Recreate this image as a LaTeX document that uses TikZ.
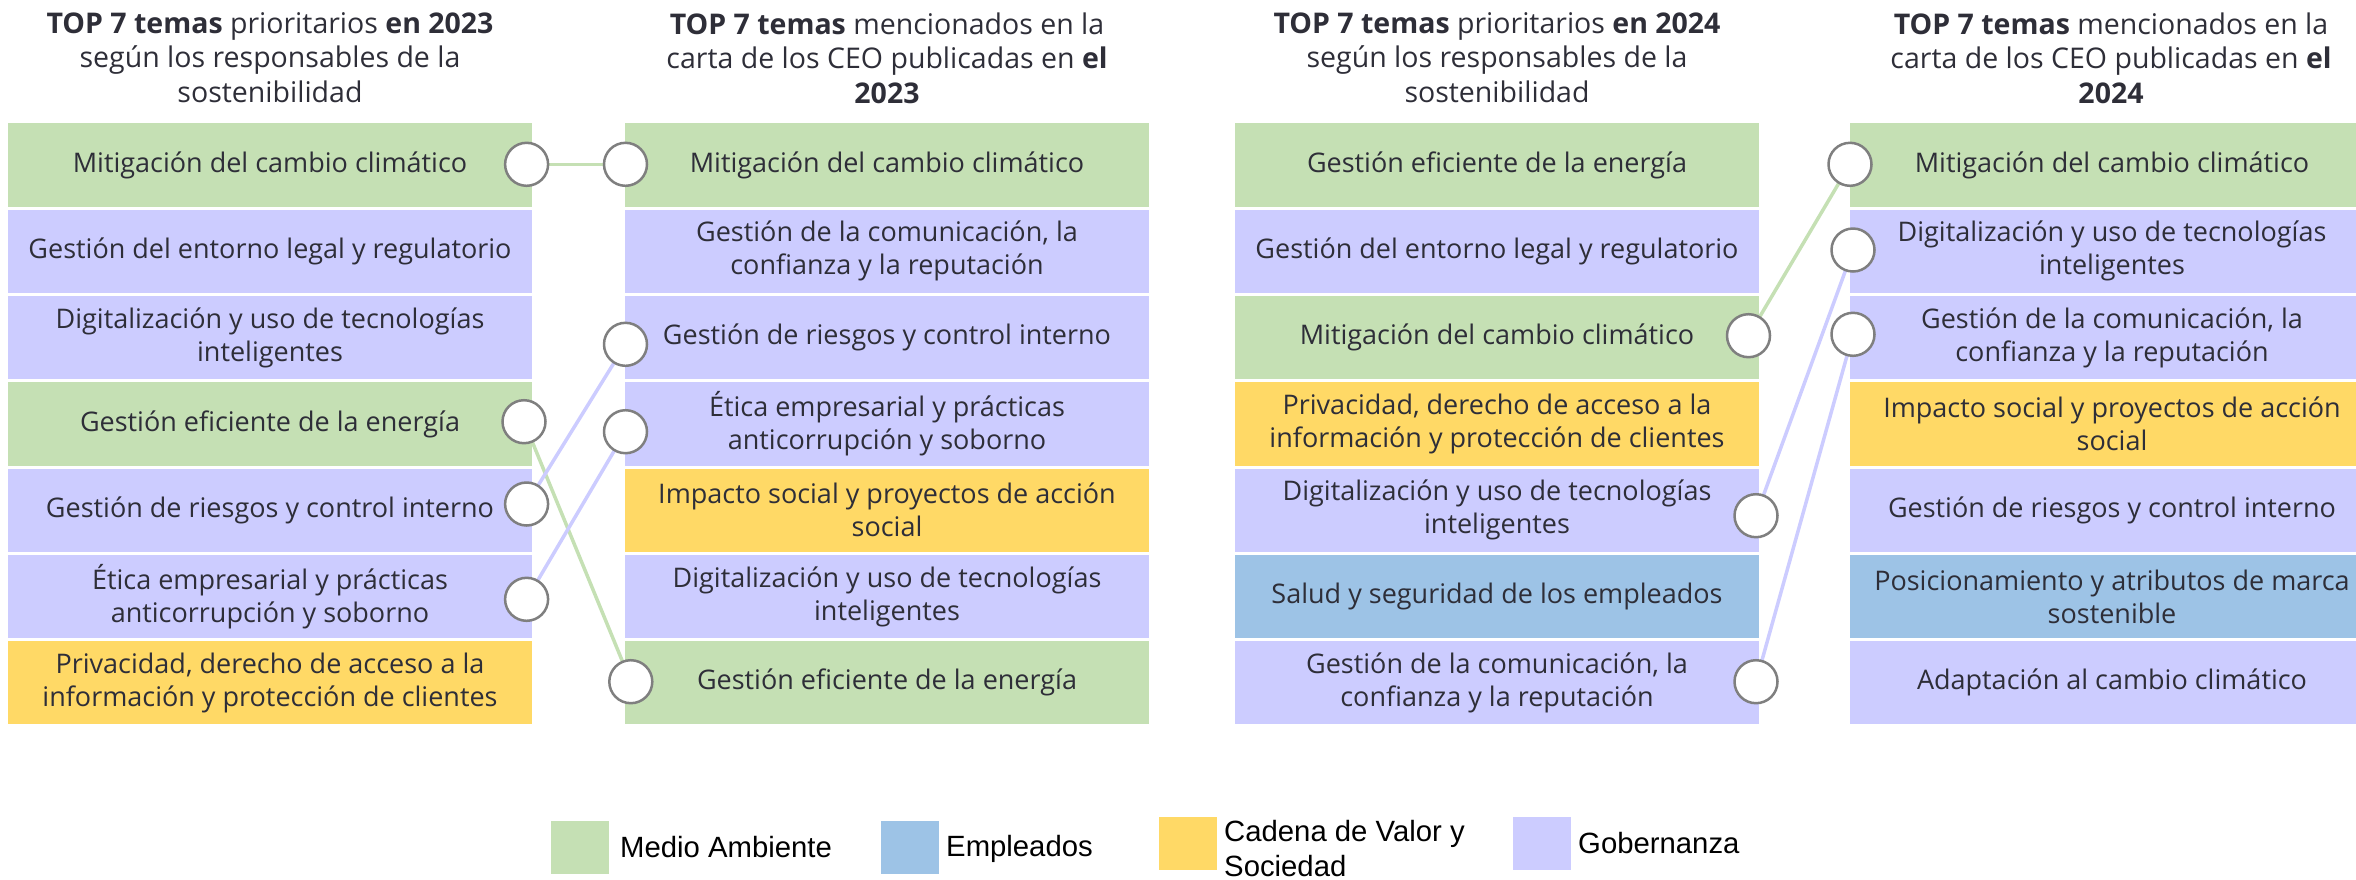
\documentclass[tikz,border=0pt]{standalone}
\usepackage{fontspec}
\setmainfont{Open Sans}
\newfontfamily\legendfont{Liberation Sans}
\definecolor{cMA}{HTML}{C5E0B4}
\definecolor{cEM}{HTML}{9DC3E6}
\definecolor{cCV}{HTML}{FFD966}
\definecolor{cGO}{HTML}{CCCCFF}
\definecolor{txt}{HTML}{2E2E38}
\definecolor{ring}{HTML}{7F7F7F}
\tikzset{
  topic/.style={rectangle, minimum width=524pt, minimum height=83.3pt, inner sep=0pt,
    align=center, text=txt, font=\fontsize{27}{33}\selectfont},
  ma/.style={topic, fill=cMA}, em/.style={topic, fill=cEM},
  cv/.style={topic, fill=cCV}, go/.style={topic, fill=cGO},
  dot/.style={circle, minimum size=43pt, inner sep=0pt, draw=ring, line width=2.5pt, fill=white},
  head/.style={align=center, text=txt, font=\fontsize{28.5}{34.5}\selectfont, anchor=north},
  linkMA/.style={draw=cMA, line width=3.5pt},
  linkGO/.style={draw=cGO, line width=3.5pt},
  swatch/.style={rectangle, inner sep=0pt, minimum width=58pt, minimum height=53pt},
  legtext/.style={font=\legendfont\fontsize{29.3}{35}\selectfont, text=black, inner sep=0pt, align=left}
}
\begin{document}
\begin{tikzpicture}[x=1pt,y=-1pt]
\useasboundingbox (0,0) rectangle (2356,879);
\clip (0,0) rectangle (2356,879);
% headers
\node[head] (h1) at (270,9) {\textbf{TOP 7 temas} prioritarios \textbf{en 2023}\\según los responsables de la\\sostenibilidad};
\node[head] (h2) at (887,9) {\textbf{TOP 7 temas} mencionados en la\\carta de los CEO publicadas en \textbf{el}\\\textbf{2023}};
\node[head] (h3) at (1497,9) {\textbf{TOP 7 temas} prioritarios \textbf{en 2024}\\según los responsables de la\\sostenibilidad};
\node[head] (h4) at (2111,9) {\textbf{TOP 7 temas} mencionados en la\\carta de los CEO publicadas en \textbf{el}\\\textbf{2024}};
% column 1
\node[ma] (a1) at (270,165) {Mitigación del cambio climático};
\node[go] (a2) at (270,251.3) {Gestión del entorno legal y regulatorio};
\node[go] (a3) at (270,337.6) {Digitalización y uso de tecnologías\\inteligentes};
\node[ma] (a4) at (270,423.9) {Gestión eficiente de la energía};
\node[go] (a5) at (270,510.2) {Gestión de riesgos y control interno};
\node[go] (a6) at (270,596.5) {Ética empresarial y prácticas\\anticorrupción y soborno};
\node[cv] (a7) at (270,682.8) {Privacidad, derecho de acceso a la\\información y protección de clientes};
% column 2
\node[ma] (b1) at (887,165) {Mitigación del cambio climático};
\node[go] (b2) at (887,251.3) {Gestión de la comunicación, la\\confianza y la reputación};
\node[go] (b3) at (887,337.6) {Gestión de riesgos y control interno};
\node[go] (b4) at (887,423.9) {Ética empresarial y prácticas\\anticorrupción y soborno};
\node[cv] (b5) at (887,510.2) {Impacto social y proyectos de acción\\social};
\node[go] (b6) at (887,596.5) {Digitalización y uso de tecnologías\\inteligentes};
\node[ma] (b7) at (887,682.8) {Gestión eficiente de la energía};
% column 3
\node[ma] (c1) at (1497,165) {Gestión eficiente de la energía};
\node[go] (c2) at (1497,251.3) {Gestión del entorno legal y regulatorio};
\node[ma] (c3) at (1497,337.6) {Mitigación del cambio climático};
\node[cv] (c4) at (1497,423.9) {Privacidad, derecho de acceso a la\\información y protección de clientes};
\node[go] (c5) at (1497,510.2) {Digitalización y uso de tecnologías\\inteligentes};
\node[em] (c6) at (1497,596.5) {Salud y seguridad de los empleados};
\node[go] (c7) at (1497,682.8) {Gestión de la comunicación, la\\confianza y la reputación};
% column 4
\node[ma] (d1) at (2112,165) {Mitigación del cambio climático};
\node[go] (d2) at (2112,251.3) {Digitalización y uso de tecnologías\\inteligentes};
\node[go] (d3) at (2112,337.6) {Gestión de la comunicación, la\\confianza y la reputación};
\node[cv] (d4) at (2112,423.9) {Impacto social y proyectos de acción\\social};
\node[go] (d5) at (2112,510.2) {Gestión de riesgos y control interno};
\node[em] (d6) at (2112,596.5) {Posicionamiento y atributos de marca\\sostenible};
\node[go] (d7) at (2112,682.8) {Adaptación al cambio climático};
% connector end points
\coordinate (pa1) at (526.6,164.3);
\coordinate (pa4) at (524,421.7);
\coordinate (pa5) at (526.6,504);
\coordinate (pa6) at (526.6,599.3);
\coordinate (pb1) at (625.5,164.3);
\coordinate (pb3) at (625.5,344.3);
\coordinate (pb4) at (625.5,431.7);
\coordinate (pb7) at (630.8,681.7);
\coordinate (pc3) at (1748.5,335.7);
\coordinate (pc5) at (1756,515.7);
\coordinate (pc7) at (1756,681.7);
\coordinate (pd1) at (1850,164.3);
\coordinate (pd2) at (1853,250);
\coordinate (pd3) at (1853,334.3);
% connectors
\draw[linkMA] (pa1) -- (pb1);
\draw[linkMA] (pa4) -- (pb7);
\draw[linkGO] (pa5) -- (pb3);
\draw[linkGO] (pa6) -- (pb4);
\draw[linkMA] (pc3) -- (pd1);
\draw[linkGO] (pc5) -- (pd2);
\draw[linkGO] (pc7) -- (pd3);
% rings
\foreach \p in {pa1,pa4,pa5,pa6,pb1,pb3,pb4,pb7,pc3,pc5,pc7,pd1,pd2,pd3}
  \node[dot] (r\p) at (\p) {};
% legend
\node[swatch, fill=cMA] (s1) at (579.5,847.5) {};
\node[legtext, anchor=base west] (l1) at (620,857) {Medio Ambiente};
\node[swatch, fill=cEM] (s2) at (909.5,847.5) {};
\node[legtext, anchor=base west] (l2) at (946,856) {Empleados};
\node[swatch, fill=cCV] (s3) at (1188,843.5) {};
\node[legtext, anchor=north west] (l3) at (1224,820) {Cadena de Valor y\\Sociedad};
\node[swatch, fill=cGO] (s4) at (1542,843.5) {};
\node[legtext, anchor=base west] (l4) at (1578,853) {Gobernanza};
\end{tikzpicture}
\end{document}
